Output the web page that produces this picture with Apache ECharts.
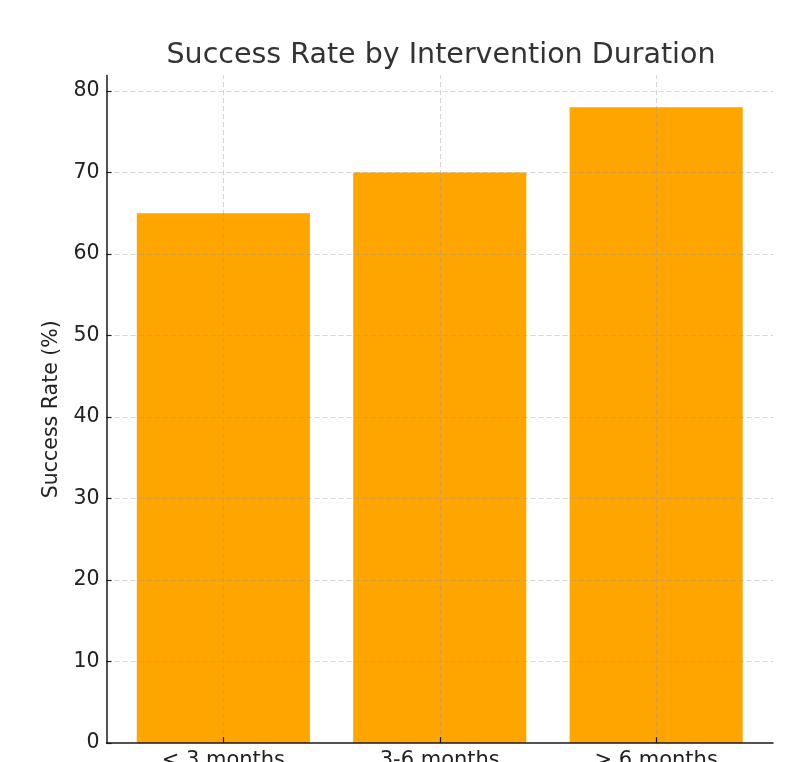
<!DOCTYPE html>
<html>
<head>
<meta charset="utf-8">
<script src="https://cdn.jsdelivr.net/npm/echarts@6/dist/echarts.min.js"></script>
<style>
  html, body { margin: 0; padding: 0; background: #fff; }
  #chart { width: 803px; height: 762px; }
</style>
</head>
<body>
<div id="chart"></div>
<script>
// Success rate (%) for each intervention duration group
const categories = ['< 3 months', '3-6 months', '> 6 months'];
const successRates = [65, 70, 78];
const yTicks = [0, 10, 20, 30, 40, 50, 60, 70, 80];

const FONT = 'DejaVu Sans';
const positions = categories.map((_, i) => i);
const barData = successRates.map((v, i) => [positions[i], v]);

const gridStyle = { type: [5, 3], color: 'rgba(150,150,150,0.4)', width: 1 };

const chart = echarts.init(document.getElementById('chart'), null, { renderer: 'canvas' });

const option = {
  animation: false,
  backgroundColor: '#ffffff',
  title: {
    text: 'Success Rate by Intervention Duration',
    left: 436,
    top: 36,
    textAlign: 'center',
    textStyle: { fontFamily: FONT, fontSize: 28.5, fontWeight: 'normal', color: '#333333' }
  },
  grid: { left: 106.5, right: 30, top: 75.5, bottom: 19, containLabel: false, outerBoundsMode: 'none' },
  xAxis: {
    type: 'value',
    z: 5,
    min: -0.54,
    max: 2.54,
    axisLine: { show: true, onZero: false, lineStyle: { color: '#1a1a1a', width: 1.5 } },
    axisTick: { show: true, inside: true, customValues: positions, length: 6, lineStyle: { color: '#1a1a1a', width: 1.2 } },
    axisLabel: {
      customValues: positions,
      formatter: v => categories[Math.round(v)] || '',
      margin: 7,
      fontFamily: FONT, fontSize: 21, color: '#222222'
    },
    splitLine: { show: false }
  },
  yAxis: {
    type: 'value',
    z: 5,
    min: 0,
    max: 81.9,
    name: 'Success Rate (%)',
    nameLocation: 'middle',
    nameGap: 43,
    nameTextStyle: { fontFamily: FONT, fontSize: 20.5, color: '#222222' },
    axisLine: { show: true, onZero: false, lineStyle: { color: '#1a1a1a', width: 1.5 } },
    axisTick: { show: true, inside: true, customValues: yTicks, length: 5, lineStyle: { color: '#1a1a1a', width: 1.2 } },
    axisLabel: {
      customValues: yTicks,
      margin: 7,
      fontFamily: FONT, fontSize: 20.5, color: '#222222'
    },
    splitLine: { show: false }
  },
  series: [{
    type: 'bar',
    data: barData,
    barWidth: 170,
    itemStyle: { color: '#FFA500' },
    markLine: {
      silent: true,
      symbol: 'none',
      label: { show: false },
      lineStyle: gridStyle,
      data: yTicks.slice(1).map(t => ({ yAxis: t }))
        .concat(positions.map(p => ({ xAxis: p })))
    }
  }]
};

chart.setOption(option);

// Bars span 0.8 of a category unit along the x scale
const unitPx = chart.convertToPixel({ xAxisIndex: 0 }, 1) - chart.convertToPixel({ xAxisIndex: 0 }, 0);
chart.setOption({ series: [{ barWidth: unitPx * 0.8 }] });
</script>
</body>
</html>
